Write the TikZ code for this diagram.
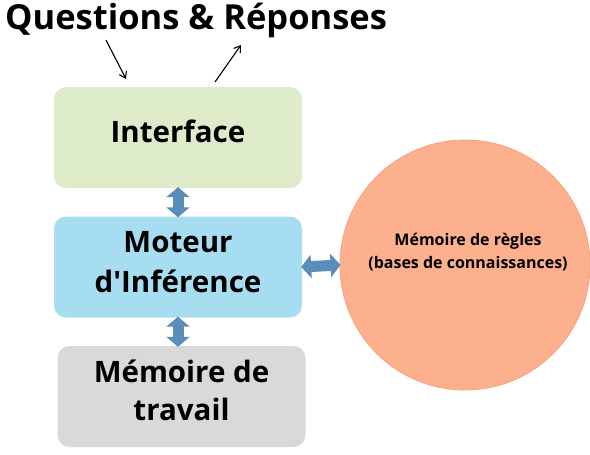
\documentclass[tikz,border=0pt]{standalone}
\usepackage{fontspec}
\setmainfont{Open Sans}[Ligatures=TeXOff]
\usetikzlibrary{arrows.meta}
\definecolor{cgreen}{HTML}{DEEBC9}
\definecolor{cblue}{HTML}{A7DDF0}
\definecolor{cgrey}{HTML}{D9D9D9}
\definecolor{corange}{HTML}{FCB08D}
\definecolor{corangeb}{HTML}{F6A27E}
\definecolor{carrow}{HTML}{5A8DBA}
\tikzset{
  box/.style={rounded corners=12pt, minimum width=248pt, minimum height=101pt, inner sep=0pt},
  boxtext/.style={font=\fontsize{29.5}{40}\selectfont\bfseries, align=center},
  blockarrow/.style={carrow, line width=11pt, {Triangle[length=10pt,width=23pt]}-{Triangle[length=10pt,width=23pt]}, shorten >=-1pt, shorten <=-1pt},
  thinarrow/.style={black, line width=1.1pt, -{Straight Barb[length=6pt,width=8pt]}},
}
\begin{document}
\begin{tikzpicture}[x=1pt,y=-1pt]
\useasboundingbox (0,0) rectangle (590,455);
\node[anchor=base west, inner sep=0pt, font=\fontsize{34.5}{40}\selectfont\bfseries] (title) at (5,30) {Questions \& Réponses};
\node[box, fill=cgreen] (iface) at (178,137.5) {};
\node[boxtext] (ifacet) at (178,131) {Interface};
\node[box, fill=cblue] (mot) at (178,267) {};
\node[boxtext] (mott) at (178,262) {Moteur\\d'Inférence};
\node[box, fill=cgrey] (mem) at (181.5,396.5) {};
\node[boxtext, font=\fontsize{29.5}{38}\selectfont\bfseries] (memt) at (181.5,390) {Mémoire de\\travail};
\node[circle, fill=corange, draw=corangeb, line width=0.8pt, minimum size=250pt, inner sep=0pt] (regles) at (465,265) {};
\node[font=\fontsize{16}{23}\selectfont\bfseries, align=center] (reglest) at (468,252) {Mémoire de règles\\(bases de connaissances)};
\draw[blockarrow] (iface.south) -- (mot.north);
\draw[blockarrow] (mot.south) -- (mot.south |- mem.north);
\draw[blockarrow] (mot.east) -- (regles.west);
\coordinate (q1) at (106,40);
\coordinate (q2) at (126,79);
\coordinate (r1) at (215,82);
\coordinate (r2) at (241,45);
\draw[thinarrow] (q1) -- (q2);
\draw[thinarrow] (r1) -- (r2);
\end{tikzpicture}
\end{document}
